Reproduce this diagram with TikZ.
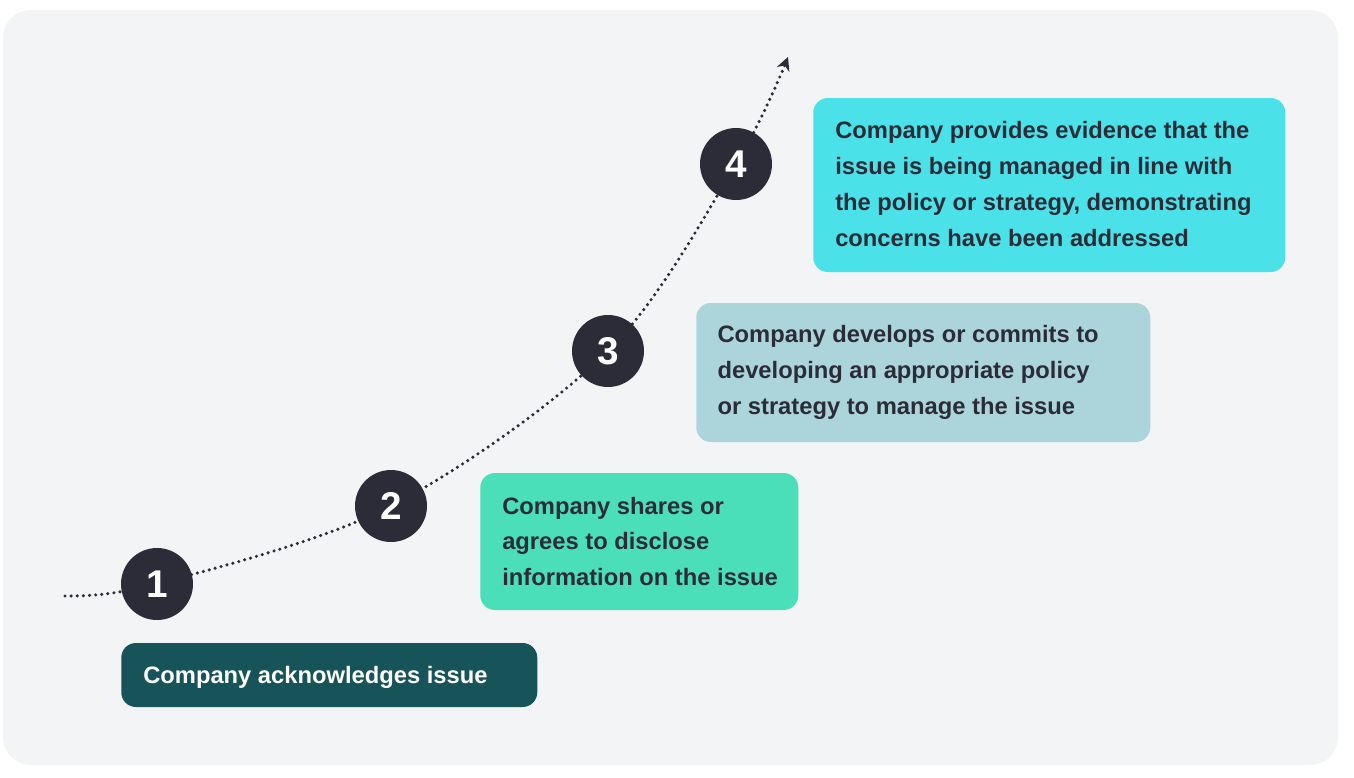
\documentclass[tikz,border=0pt]{standalone}
\usepackage{fontspec}
\setmainfont{Liberation Sans}
\usetikzlibrary{arrows.meta}
\definecolor{bgc}{HTML}{F3F4F6}
\definecolor{darkc}{HTML}{2B2C37}
\definecolor{boxa}{HTML}{17545A}
\definecolor{boxb}{HTML}{4ADFB8}
\definecolor{boxc}{HTML}{ABD5DB}
\definecolor{boxd}{HTML}{4BE1E9}
\tikzset{
  stepnum/.style={circle, fill=darkc, text=white, minimum size=54pt, inner sep=0pt,
    font=\bfseries\fontsize{29}{29}\selectfont},
  stepbox/.style={rounded corners=11pt, inner sep=0pt, anchor=west},
  steptext/.style={inner sep=0pt, align=left, anchor=west,
    font=\bfseries\fontsize{17.8}{26.8}\selectfont, text=darkc},
  dotline/.style={darkc, line width=2.6pt, line cap=round, dash pattern=on 0pt off 4.6pt,
    -{Stealth[length=10pt,width=10pt,line cap=butt]}}
}
\begin{document}
\begin{tikzpicture}[x=0.75pt,y=-0.75pt]
\useasboundingbox (0,0) rectangle (1354,778);
\fill[white] (0,0) rectangle (1354,778);
\fill[bgc, rounded corners=21pt] (3,10) rectangle (1338,765);
\coordinate (st) at (65,596);
\coordinate (c1) at (157,584);
\coordinate (c2) at (391,506);
\coordinate (c3) at (608,351);
\coordinate (c4) at (736,164);
\coordinate (en) at (788,57);
\draw[dotline] plot[smooth, tension=0.55] coordinates {(st) (c1) (c2) (c3) (c4) (en)};
\node[stepnum] (n1) at (c1) {1};
\node[stepnum] (n2) at (c2) {2};
\node[stepnum] (n3) at (c3) {3};
\node[stepnum] (n4) at (c4) {4};
\node[stepbox, fill=boxa, minimum width=312pt, minimum height=48pt] (b1) at (121,675) {};
\node[steptext, text=white] (t1) at ([xshift=16.5pt,yshift=-1.5pt]b1.west)
  {Company acknowledges issue};
\node[stepbox, fill=boxb, minimum width=238.5pt, minimum height=102.75pt] (b2) at (480,541.5) {};
\node[steptext] (t2) at ([xshift=16.5pt]b2.west)
  {Company shares or\\agrees to disclose\\information on the issue};
\node[stepbox, fill=boxc, minimum width=340.5pt, minimum height=104.25pt] (b3) at (696,372.5) {};
\node[steptext] (t3) at ([xshift=16pt]b3.west)
  {Company develops or commits to\\developing an appropriate policy\\or strategy to manage the issue};
\node[stepbox, fill=boxd, minimum width=354pt, minimum height=130.5pt] (b4) at (813,185) {};
\node[steptext] (t4) at ([xshift=16.5pt,yshift=0.8pt]b4.west)
  {Company provides evidence that the\\issue is being managed in line with\\the policy or strategy, demonstrating\\concerns have been addressed};
\end{tikzpicture}
\end{document}
